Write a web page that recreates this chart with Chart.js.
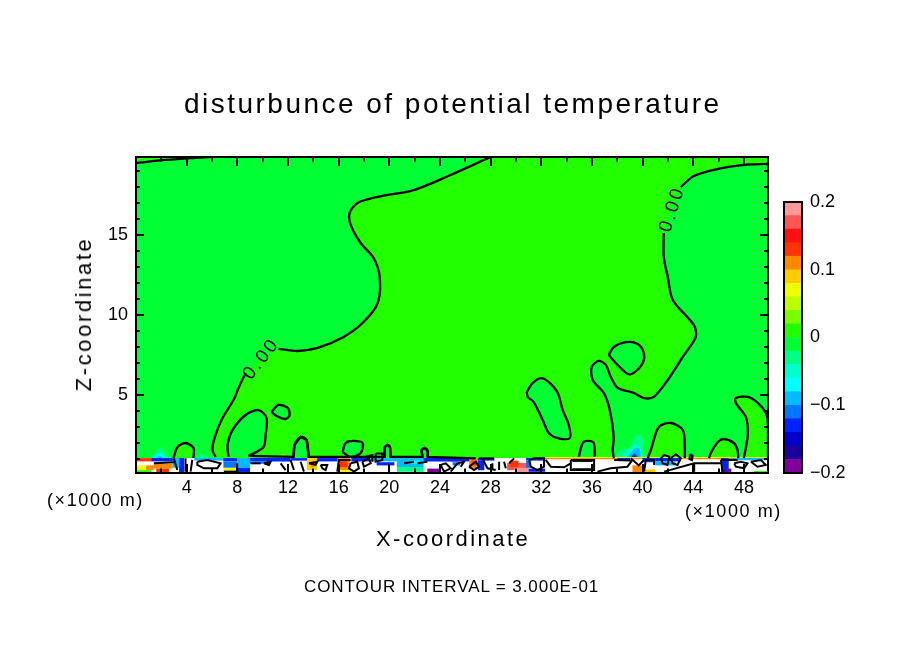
<!DOCTYPE html>
<html>
<head>
<meta charset="utf-8">
<title>disturbunce of potential temperature</title>
<script src="https://cdn.jsdelivr.net/npm/chart.js@4"></script>
<style>
  html, body { margin: 0; background: #fff; }
  #page { position: relative; width: 904px; height: 654px; overflow: hidden; font-family: "Liberation Sans", Arial, sans-serif; color: #000; }
  canvas { position: absolute; }
  .txt { position: absolute; white-space: nowrap; line-height: 1; }
</style>
</head>
<body>
<div id="page">
  <canvas id="field" width="904" height="654" style="left:0;top:0"></canvas>
  <canvas id="colorbar" width="124" height="300" style="left:780px;top:190px"></canvas>
  <div class="txt" id="title" style="left:184px;top:90px;font-size:28px;letter-spacing:2.48px">disturbunce of potential temperature</div>
  <div class="txt" style="left:47px;top:491px;font-size:18px;letter-spacing:1.6px">(×1000 m)</div>
  <div class="txt" style="left:685px;top:502px;font-size:18px;letter-spacing:1.6px">(×1000 m)</div>
  <div class="txt" style="left:376px;top:528px;font-size:22px;letter-spacing:2.45px">X-coordinate</div>
  <div class="txt" style="left:84px;top:314px;font-size:22px;letter-spacing:2.6px;transform:translate(-50%,-50%) rotate(-90deg)">Z-coordinate</div>
  <div class="txt" style="left:304px;top:578px;font-size:17px;letter-spacing:.93px">CONTOUR INTERVAL = 3.000E-01</div>
</div>
<script>
  // Axis values (km)
  const xRange = [0, 49.9];
  const zRange = [0.125, 19.875];
  const xTicks = [4, 8, 12, 16, 20, 24, 28, 32, 36, 40, 44, 48];
  const zTicks = [5, 10, 15];

  // Colour levels, bottom of the colour bar first
  const levelEdges = [-0.2, -0.18, -0.16, -0.14, -0.12, -0.1, -0.08, -0.06, -0.04, -0.02, 0, 0.02, 0.04, 0.06, 0.08, 0.1, 0.12, 0.14, 0.16, 0.18, 0.2];
  const levelColors = ['#80009a', '#1c009a', '#0000cc', '#0022ff', '#0077ff', '#00bbff', '#00ffff', '#00ffcc', '#00ff88', '#00ff33',
                       '#22ff00', '#77ff00', '#bbff00', '#eeff00', '#ffcc00', '#ff8800', '#ff3300', '#ff1111', '#ff5555', '#ff9999'];
  const barTicks = [-0.2, -0.1, 0, 0.1, 0.2];
  const barTickLabels = ['\u22120.2', '\u22120.1', '0', '0.1', '0.2'];

  // Zero contours, [x, z]
  const leftUpper = [[28.0,19.88],[24.84,18.75],[21.92,17.81],[19.08,17.38],[17.5,17.0],[16.87,16.38],[16.95,15.63],[17.74,14.5],[18.76,13.56],[19.24,12.38],[19.08,10.75],[17.97,9.56],[16.39,8.63],[14.34,7.94],[12.76,7.75],[11.26,7.88]];
  const leftLower = [[8.65,6.38],[8.1,5.44],[7.7,4.69],[6.83,3.56],[6.2,2.31],[6.04,1.56],[6.28,1.13]];
  const topSliver = [[0,19.5],[2.33,19.69],[4.31,19.81],[5.89,19.88]];
  const rightUpper = [[49.9,19.44],[47.99,19.38],[45.94,19.13],[44.04,18.69],[43.02,18.0]];
  const rightLower = [[41.67,15.13],[41.67,13.63],[41.99,12.38],[42.38,10.94],[44.04,9.38],[44.2,8.63],[43.17,7.38],[41.99,5.94],[40.88,4.88],[40.09,4.81],[39.3,5.13],[38.04,5.44],[37.49,6.13],[37.09,6.88],[36.54,7.13],[35.98,6.75],[36.06,5.94],[36.93,5.13],[37.41,4.06],[37.72,2.38],[37.64,1.56],[37.72,1.06]];

  // Closed cells of the other sign
  const negCells = [
    [[37.33,7.5],[37.72,8.0],[38.67,8.31],[39.62,8.19],[40.09,7.63],[40.01,7.0],[39.3,6.38],[38.83,6.31],[37.88,7.0],[37.33,7.5]],
    [[30.85,5.19],[31.32,5.75],[31.96,6.06],[32.59,5.81],[33.3,5.13],[33.69,4.06],[34.17,3.13],[34.25,2.31],[33.3,2.31],[32.59,2.63],[32.11,3.44],[31.4,4.56],[30.93,4.88],[30.85,5.19]],
    [[34.96,1.13],[35.27,2.0],[35.67,2.13],[36.14,2.0],[36.22,1.13]],
    [[10.7,3.94],[11.26,4.38],[11.97,4.19],[12.13,3.75],[11.81,3.5],[11.1,3.69],[10.7,3.94]],
    [[7.31,1.13],[7.23,1.88],[7.62,2.81],[8.65,3.75],[9.68,4.06],[10.31,3.56],[10.23,2.5],[10.07,1.75],[8.89,1.19]],
    [[12.44,1.13],[12.52,1.88],[13.0,2.38],[13.47,2.19],[13.63,1.13]],
    [[16.31,1.44],[16.55,2.0],[17.18,2.13],[17.89,2.0],[17.74,1.38],[16.95,1.13],[16.31,1.44]],
    [[19.6,1.13],[19.65,1.75],[19.87,1.88],[20.05,1.75],[20.1,1.13]],
    [[22.62,1.13],[22.55,1.56],[22.79,1.69],[23.03,1.5],[23.03,1.13]]
  ];
  const posCells = [
    [[40.41,1.06],[40.65,1.56],[41.28,3.0],[42.23,3.25],[43.17,2.81],[43.33,1.69],[43.33,1.06]],
    [[45.24,1.06],[45.39,1.38],[45.94,2.06],[46.41,2.25],[47.2,2.0],[47.5,1.56],[47.55,1.06]],
    [[47.99,1.06],[48.15,1.69],[48.31,2.63],[48.15,3.63],[47.36,4.5],[47.36,4.81],[48.31,4.88],[49.1,4.5],[49.73,3.88],[49.9,3.13],[49.9,1.06]],
    [[2.96,1.06],[3.28,1.75],[3.91,2.0],[4.54,1.69],[4.54,1.06]]
  ];
  const lowContour = [[8.89,1.19],[12.44,1.13],[12.52,1.88],[13.0,2.38],[13.47,2.19],[13.63,1.13],[16.95,1.13],[19.6,1.13],[19.65,1.75],[19.87,1.88],[20.05,1.75],[20.1,1.13],[22.62,1.13],[22.55,1.56],[22.79,1.69],[23.03,1.5],[23.03,1.13],[26.82,1.04]];
  const contourLabels = [[9.9, 7.25, -52], [42.35, 16.6, -72]];
  const contourLabelText = '0.00';

  // Plumes over the surface layer, [level, outline]
  const plumes = [
    [8, [[1.0,1.06],[1.4,1.3],[1.9,1.7],[2.2,1.5],[2.6,1.06]]],
    [6, [[1.3,1.06],[1.7,1.35],[2.0,1.35],[2.3,1.06]]],
    [5, [[1.6,1.06],[1.85,1.2],[2.1,1.06]]],
    [8, [[4.7,1.06],[5.2,1.3],[5.9,1.06]]],
    [11, [[11.2,1.06],[11.6,1.35],[12.0,1.06]]],
    [8, [[37.75,1.04],[38.28,1.56],[39.07,1.77],[39.28,2.29],[39.73,2.5],[40.12,2.19],[39.99,1.56],[40.39,1.04]]],
    [7, [[38.2,1.04],[38.8,1.5],[39.4,1.9],[39.8,1.7],[40.0,1.04]]],
    [5, [[38.54,1.04],[39.07,1.35],[39.33,1.67],[39.73,1.67],[39.86,1.04]]],
    [3, [[39.07,1.04],[39.33,1.35],[39.6,1.15]]]
  ];

  // Surface layer patches: x0, x1, z0, z1, level
  const surfacePatches = [
    [0,1.2,0.85,1.06,16],[0,0.8,0.3,0.6,13],[0.8,1.4,0.3,0.6,15],[0,1.2,0.125,0.3,10],
    [1.2,3,0.85,1.06,3],[1.4,2.9,0.4,0.7,15],[1.6,2.6,0.125,0.4,16],[2.9,3.4,0.45,1.06,5],[3.4,3.8,0.125,1.06,3],
    [4.6,7,0.9,1.06,5],[6.9,8,0.85,1.06,3],[6.9,8,0.45,0.85,4],[6.9,8,0.125,0.45,13],
    [8,9,0.45,1.06,5],[8,9,0.125,0.45,3],[9,12.2,0.85,1.06,3],[9,10.5,0.7,0.85,4],[12.2,13.5,0.9,1.06,3],
    [13.5,14.3,0.3,1.06,14],[13.8,14.1,0.5,0.8,15],[14.3,16,0.85,1.06,3],
    [15.9,16.9,0.3,1.06,15],[16,16.7,0.5,0.85,16],[16,17,0.125,0.3,13],[17,18.5,0.85,1.06,3],
    [18.5,20.6,0.85,1.06,5],[19,20.4,0.6,0.8,3],[20.6,22.7,0.5,1.06,5],[21.5,22.7,0.7,0.9,6],[20.6,22.7,0.2,0.5,8],
    [22.7,25.6,0.85,1.06,3],[23,24,0.125,0.4,0],[25,25.6,0.6,0.8,4],
    [24.85,26.3,0.85,1.06,3],[26.3,27,0.4,1.06,15],[26.5,26.9,0.6,0.9,16],[27,28.3,0.9,1.06,3],[27,27.5,0.3,0.9,3],
    [29.3,30.9,0.3,0.75,18],[29.5,30.2,0.5,0.9,16],[29.9,31,0.125,0.45,19],
    [30.8,32.3,0.9,1.06,3],[30.8,31.2,0.45,0.9,4],[31,32.3,0.2,0.4,3],
    [32.3,49.9,1.06,1.13,13],[32.3,49.9,0.98,1.06,15],
    [38,39,0.9,1.06,3],[39.2,40,0.125,0.6,15],[40,41,0.8,1.06,3],[41,43,0.85,1.06,3],[41,42.6,0.6,0.85,5],[40.2,41,0.125,0.35,14],
    [46.2,46.8,0.125,1.06,3],[47,49.9,0.92,1.06,5],[46.6,47,0.125,0.4,0],[48.8,49.9,0.125,0.25,10]
  ];

  // Contour scraps inside the surface layer
  const surfaceLines = [
    [[1.41,0.73],[2.99,0.79]],[[2.99,1.04],[3.26,0.31]],[[3.91,1.04],[3.91,0.21]],[[4.44,0.94],[4.31,0.21]],
    [[4.84,0.83],[5.63,0.94],[6.68,0.73],[6.42,0.42],[5.36,0.42],[4.84,0.63],[4.84,0.83]],
    [[6.94,0.21],[7.99,0.21]],[[7.99,0.73],[7.99,0.21]],[[9.05,0.73],[9.84,0.73]],[[10.1,0.73],[10.63,0.83],[10.5,0.63],[10.1,0.73]],
    [[11.42,0.73],[11.81,0.31]],[[12.21,0.94],[12.47,0.31]],[[13,0.83],[13.26,0.21]],
    [[13.66,0.73],[14.32,0.83],[14.18,0.63],[13.66,0.73]],[[14.58,0.63],[15.1,0.63],[14.97,0.31],[14.71,0.42],[14.58,0.63]],
    [[15.89,0.21],[16.03,0.94],[16.95,0.94]],[[16.95,0.73],[17.47,0.83],[17.6,0.42],[17.21,0.21],[16.82,0.42],[16.95,0.73]],
    [[17.87,0.83],[18.4,1.04],[18.53,0.73],[18,0.52],[17.87,0.83]],
    [[18.92,1.35],[19.45,1.35],[19.45,0.94],[18.92,0.83],[18.92,1.35]],[[18.13,1.15],[18.66,1.25],[18.66,0.83]],
    [[21.16,0.73],[21.95,0.83]],[[22.21,0.73],[23,0.83]],[[24.06,0.63],[24.45,0.73],[24.85,0.42],[24.32,0.21],[24.06,0.63]],
    [[24.85,0.21],[25.38,0.73],[25.9,0.83],[25.64,0.52]],
    [[26.3,0.52],[26.82,0.83],[27.09,0.52],[26.69,0.31],[26.3,0.52]],[[27.09,1.04],[28.27,1.04]],[[27.35,1.04],[27.75,0.42],[28.4,0.31]],
    [[28.14,0.73],[28.14,0.31]],[[28.67,0.83],[28.67,0.31]],[[29.06,0.83],[29.2,0.42]],[[29.46,0.73],[29.85,1.04]],
    [[31.04,0.94],[31.43,1.04],[32.22,1.04],[32.22,0.52],[31.7,0.31],[31.17,0.52],[31.04,0.94]],
    [[32.35,0.94],[32.75,0.52],[33.8,0.48],[34.33,0.73]],
    [[34.33,0.94],[36.17,0.94],[36.17,0.31],[34.33,0.31],[34.33,0.94]],[[34.45,0.88],[36.05,0.88]],[[34.45,0.36],[36.05,0.36]],
    [[36.43,0.21],[37.48,0.42],[38.8,0.52],[39.2,0.94]],[[37.75,0.94],[39.07,0.9]],[[39.07,1.04],[39.7,0.6],[40.1,0.94]],
    [[40.12,0.21],[40.25,0.94],[40.91,0.94],[40.91,0.63]],
    [[41.44,1.04],[41.7,1.25],[42.1,1.15],[41.96,0.63],[41.57,0.73],[41.44,1.04]],[[42.23,1.04],[42.62,1.3],[43.02,1.04],[42.75,0.63],[42.36,0.73],[42.23,1.04]],
    [[43.75,1.3],[43.95,1.2],[43.9,0.94],[43.7,1.0],[43.75,1.3]],
    [[41.7,0.21],[44.07,0.73],[46.18,0.73]],[[44.07,0.73],[44.07,0.21]],[[46.18,0.94],[47.5,0.94]],[[46.18,0.94],[46.31,0.21]],
    [[47.23,0.73],[47.76,0.83],[48.28,0.73],[48.02,0.42],[47.36,0.52],[47.23,0.73]],[[48.55,0.83],[49.34,0.94],[49.73,0.63],[49.07,0.52],[48.55,0.83]]
  ];

  const toPts = a => a.map(([x, y]) => ({ x, y }));
  const ds = [];

  function addShape(points, color, tension) {
    ds.push({ data: toPts(points), showLine: true, fill: 'shape', backgroundColor: color, borderWidth: 0, pointRadius: 0, tension: tension || 0 });
  }
  function addLine(points, tension, width) {
    ds.push({ data: toPts(points), showLine: true, fill: false, borderColor: '#000', borderWidth: width || 2.3, pointRadius: 0, tension: tension || 0 });
  }

  const GREEN = levelColors[9], LIME = levelColors[10];
  const plotBox = [[xRange[0],zRange[0]],[xRange[1],zRange[0]],[xRange[1],zRange[1]],[xRange[0],zRange[1]]];

  // field colours first, the chart draws these bottom up after the reverse below
  addShape(plotBox, GREEN);
  addShape([...topSliver, [0,19.88]], LIME);
  addShape([[28.0,19.88],[49.9,19.88], ...rightUpper, ...rightLower, [6.28,1.06], ...leftLower.slice().reverse(), ...leftUpper.slice().reverse()], LIME, 0.3);
  negCells.forEach(c => addShape(c, GREEN, 0.3));
  posCells.forEach(c => addShape(c, LIME, 0.3));
  plumes.forEach(([lev, outline]) => addShape(outline, levelColors[lev], 0.3));

  addShape([[0,0.125],[49.9,0.125],[49.9,1.06],[0,1.06]], '#fff');
  surfacePatches.forEach(([x0, x1, z0, z1, lev]) => addShape([[x0,z0],[x1,z0],[x1,z1],[x0,z1]], levelColors[lev]));

  [leftUpper, leftLower, rightUpper, rightLower, topSliver].forEach(c => addLine(c, 0.3));
  negCells.forEach(c => addLine(c, 0.3));
  posCells.forEach(c => addLine(c, 0.3));
  addLine(lowContour);
  surfaceLines.forEach(c => addLine(c, 0, 2));

  // inward tick marks, frame and rotated contour labels
  const framePlugin = {
    id: 'frame',
    afterDatasetsDraw(chart) {
      const { ctx, chartArea: a, scales: { x, y } } = chart;
      ctx.save();
      ctx.strokeStyle = '#000';
      ctx.lineWidth = 2;
      ctx.beginPath();
      for (let v = 2; v <= 48; v += 2) {
        const px = Math.round(x.getPixelForValue(v));
        const len = v % 4 === 0 ? 9 : 4.5;
        ctx.moveTo(px, a.top); ctx.lineTo(px, a.top + len);
        ctx.moveTo(px, a.bottom); ctx.lineTo(px, a.bottom - len);
      }
      for (let v = 1; v <= 19; v++) {
        const py = Math.round(y.getPixelForValue(v));
        const len = v % 5 === 0 ? 8 : 4;
        ctx.moveTo(a.left, py); ctx.lineTo(a.left + len, py);
        ctx.moveTo(a.right, py); ctx.lineTo(a.right - len, py);
      }
      ctx.stroke();
      ctx.strokeRect(a.left, a.top, a.right - a.left, a.bottom - a.top);

      ctx.fillStyle = '#000';
      ctx.font = '19px "Liberation Sans"';
      ctx.letterSpacing = '2.5px';
      ctx.textAlign = 'center';
      ctx.textBaseline = 'middle';
      contourLabels.forEach(([lx, lz, deg]) => {
        ctx.save();
        ctx.translate(x.getPixelForValue(lx), y.getPixelForValue(lz));
        ctx.rotate(deg * Math.PI / 180);
        ctx.fillText(contourLabelText, 0, 0);
        ctx.restore();
      });
      ctx.restore();
    }
  };

  Chart.defaults.font.family = '"Liberation Sans", Arial, sans-serif';
  Chart.defaults.color = '#000';
  Chart.defaults.animation = false;

  new Chart(document.getElementById('field'), {
    type: 'scatter',
    data: { datasets: ds.reverse() },
    plugins: [framePlugin],
    options: {
      responsive: false,
      layout: { padding: { top: 157, right: 136, left: 0, bottom: 0 } },
      plugins: { legend: { display: false }, tooltip: { enabled: false } },
      scales: {
        x: {
          type: 'linear', min: xRange[0], max: xRange[1],
          afterBuildTicks: s => { s.ticks = xTicks.map(value => ({ value })); },
          afterFit: s => { s.height = 181; },
          grid: { display: false, drawTicks: false }, border: { display: false },
          ticks: { font: { size: 18 }, padding: 4, maxRotation: 0, autoSkip: false }
        },
        y: {
          type: 'linear', min: zRange[0], max: zRange[1],
          afterBuildTicks: s => { s.ticks = zTicks.map(value => ({ value })); },
          afterFit: s => { s.width = 136; },
          grid: { display: false, drawTicks: false }, border: { display: false },
          ticks: { font: { size: 18 }, padding: 8, autoSkip: false }
        }
      }
    }
  });

  // Colour bar
  new Chart(document.getElementById('colorbar'), {
    type: 'bar',
    data: {
      labels: [''],
      datasets: levelColors.map((c, i) => ({
        data: [[levelEdges[i], levelEdges[i + 1]]],
        backgroundColor: c, grouped: false, barPercentage: 1, categoryPercentage: 1
      }))
    },
    plugins: [{
      id: 'barFrame',
      afterDatasetsDraw(chart) {
        const { ctx, chartArea: a } = chart;
        ctx.save();
        ctx.strokeStyle = '#000';
        ctx.lineWidth = 2;
        ctx.strokeRect(a.left, a.top, a.right - a.left, a.bottom - a.top);
        ctx.restore();
      }
    }],
    options: {
      responsive: false,
      layout: { padding: { left: 4, top: 12, bottom: 17, right: 0 } },
      plugins: { legend: { display: false }, tooltip: { enabled: false } },
      scales: {
        x: { display: false },
        y: {
          position: 'right', min: -0.2, max: 0.2,
          afterBuildTicks: s => { s.ticks = barTicks.map(value => ({ value })); },
          afterFit: s => { s.width = 102; s.paddingTop = 0; s.paddingBottom = 0; },
          grid: { display: false, drawTicks: false }, border: { display: false },
          ticks: {
            font: { size: 18 }, padding: 8, autoSkip: false,
            callback: (v, i) => barTickLabels[i]
          }
        }
      }
    }
  });
</script>
</body>
</html>
